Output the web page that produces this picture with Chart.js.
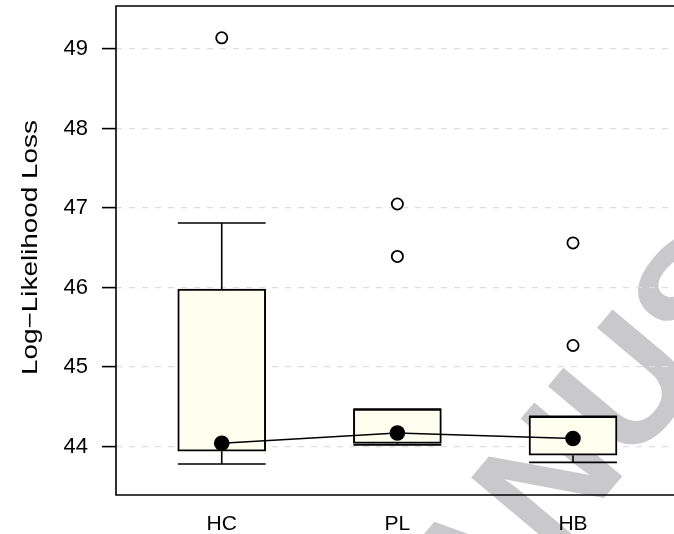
<!DOCTYPE html>
<html>
<head>
<meta charset="utf-8">
<script src="https://cdn.jsdelivr.net/npm/chart.js@4.4.0/dist/chart.umd.min.js"></script>
<style>
    html, body { margin: 0; padding: 0; background: #fff; overflow: hidden; }
    canvas { display: block; }
</style>
</head>
<body>
<canvas id="lossChart" width="674" height="534"></canvas>
<script>
const categories = ["HC", "PL", "HB"];
const whiskerLow = [43.78, 44.02, 43.80];
const quartile1 = [43.94, 44.04, 43.89];
const quartile3 = [45.98, 44.47, 44.38];
const whiskerHigh = [46.81, 44.47, 44.38];
const centreValues = [44.04, 44.17, 44.10];
const outliers = [[49.14], [47.05, 46.39], [46.56, 45.27]];
const yTicks = [44, 45, 46, 47, 48, 49];
const yTitle = "Log\u2212Likelihood Loss";
const watermark = "ACCEPTED MANUSCRIPT";

const FONT = "'Liberation Sans', Arial, Helvetica, sans-serif";

// whisker stems and caps, drawn with the chart's scales
const whiskers = {
    id: "whiskers",
    beforeDatasetsDraw(chart) {
        const ctx = chart.ctx;
        const xs = chart.scales.x;
        const ys = chart.scales.y;
        ctx.save();
        ctx.strokeStyle = "#000";
        ctx.lineWidth = 1.6;
        categories.forEach((c, i) => {
            const x = xs.getPixelForValue(i + 1);
            const xl = xs.getPixelForValue(i + 1 - 0.25);
            const xr = xs.getPixelForValue(i + 1 + 0.25);
            const yHi = ys.getPixelForValue(whiskerHigh[i]);
            const yQ3 = ys.getPixelForValue(quartile3[i]);
            const yLo = ys.getPixelForValue(whiskerLow[i]);
            const yQ1 = ys.getPixelForValue(quartile1[i]);
            ctx.beginPath();
            ctx.moveTo(x, yQ3); ctx.lineTo(x, yHi);
            ctx.moveTo(xl, yHi); ctx.lineTo(xr, yHi);
            ctx.moveTo(x, yQ1); ctx.lineTo(x, yLo);
            ctx.moveTo(xl, yLo); ctx.lineTo(xr, yLo);
            ctx.stroke();
        });
        ctx.restore();
    }
};

// grey diagonal watermark behind everything
const stamp = {
    id: "stamp",
    beforeDraw(chart) {
        const ctx = chart.ctx;
        ctx.save();
        ctx.font = "bold 167px " + FONT;
        ctx.fillStyle = "#c9c9cb";
        const ang = -50 * Math.PI / 180;
        const pre = ctx.measureText("ACCEPTED ").width;
        ctx.translate(385, 759);
        ctx.rotate(ang);
        ctx.textAlign = "left";
        ctx.textBaseline = "alphabetic";
        ctx.fillText(watermark, -pre, 0);
        ctx.restore();
    }
};

// open frame (left, top, bottom) and the y title
const frame = {
    id: "frame",
    afterDraw(chart) {
        const ctx = chart.ctx;
        const a = chart.chartArea;
        ctx.save();
        ctx.strokeStyle = "#000";
        ctx.lineWidth = 1.6;
        ctx.beginPath();
        ctx.moveTo(chart.width + 2, a.top);
        ctx.lineTo(a.left, a.top);
        ctx.lineTo(a.left, a.bottom);
        ctx.lineTo(chart.width + 2, a.bottom);
        ctx.stroke();

        ctx.font = "22px " + FONT;
        ctx.fillStyle = "#000";
        const w = ctx.measureText(yTitle).width;
        ctx.translate(36.5, (a.top + a.bottom) / 2 - 3);
        ctx.rotate(-Math.PI / 2);
        ctx.scale(255 / w, 1);
        ctx.textAlign = "center";
        ctx.textBaseline = "alphabetic";
        ctx.fillText(yTitle, 0, 0);
        ctx.restore();
    }
};

const boxData = categories.map((c, i) => ({ x: i + 1, y: [quartile1[i], quartile3[i]] }));
const outlierData = [];
outliers.forEach((list, i) => list.forEach(v => outlierData.push({ x: i + 1, y: v })));
const centreData = categories.map((c, i) => ({ x: i + 1, y: centreValues[i] }));

const ctx = document.getElementById("lossChart").getContext("2d");

new Chart(ctx, {
    type: "bar",
    data: {
        datasets: [
            {
                type: "bar",
                data: boxData,
                backgroundColor: "#fffff0",
                borderColor: "#000",
                borderWidth: 2,
                borderSkipped: false,
                barThickness: 88,
                grouped: false,
                order: 3
            },
            {
                type: "scatter",
                data: outlierData,
                pointStyle: "circle",
                pointRadius: 5.6,
                pointBorderWidth: 1.8,
                pointBorderColor: "#000",
                pointBackgroundColor: "rgba(0,0,0,0)",
                order: 2
            },
            {
                type: "line",
                data: centreData,
                borderColor: "#000",
                borderWidth: 1.6,
                pointRadius: 7.8,
                pointBorderWidth: 0,
                pointBackgroundColor: "#000",
                tension: 0,
                fill: false,
                order: 1
            }
        ]
    },
    options: {
        responsive: false,
        animation: false,
        layout: { autoPadding: false, padding: { top: 6, right: 0, left: 0, bottom: 0 } },
        plugins: {
            legend: { display: false },
            tooltip: { enabled: false }
        },
        scales: {
            x: {
                type: "linear",
                offset: false,
                min: 0.398,
                max: 3.575,
                afterBuildTicks: scale => {
                    scale.ticks = categories.map((c, i) => ({ value: i + 1 }));
                },
                afterFit: scale => {
                    scale.height = 39;
                    scale.paddingLeft = 0;
                    scale.paddingRight = 0;
                },
                ticks: {
                    callback: value => categories[value - 1],
                    autoSkip: false,
                    maxRotation: 0,
                    padding: 9,
                    color: "#000",
                    font: { family: FONT, size: 21 }
                },
                grid: { display: false },
                border: { display: false }
            },
            y: {
                min: 43.39,
                max: 49.54,
                afterBuildTicks: scale => {
                    scale.ticks = yTicks.map(v => ({ value: v }));
                },
                afterFit: scale => {
                    scale.width = 116;
                    scale.paddingTop = 0;
                    scale.paddingBottom = 0;
                    scale.paddingLeft = 0;
                    scale.paddingRight = 0;
                },
                ticks: {
                    padding: 14,
                    color: "#000",
                    font: { family: FONT, size: 22 }
                },
                grid: {
                    color: "#dedede",
                    lineWidth: 1.2,
                    tickColor: "#000",
                    tickLength: 14,
                    tickWidth: 1.6
                },
                border: { display: false, dash: [6, 7] }
            }
        }
    },
    plugins: [stamp, whiskers, frame]
});
</script>
</body>
</html>
